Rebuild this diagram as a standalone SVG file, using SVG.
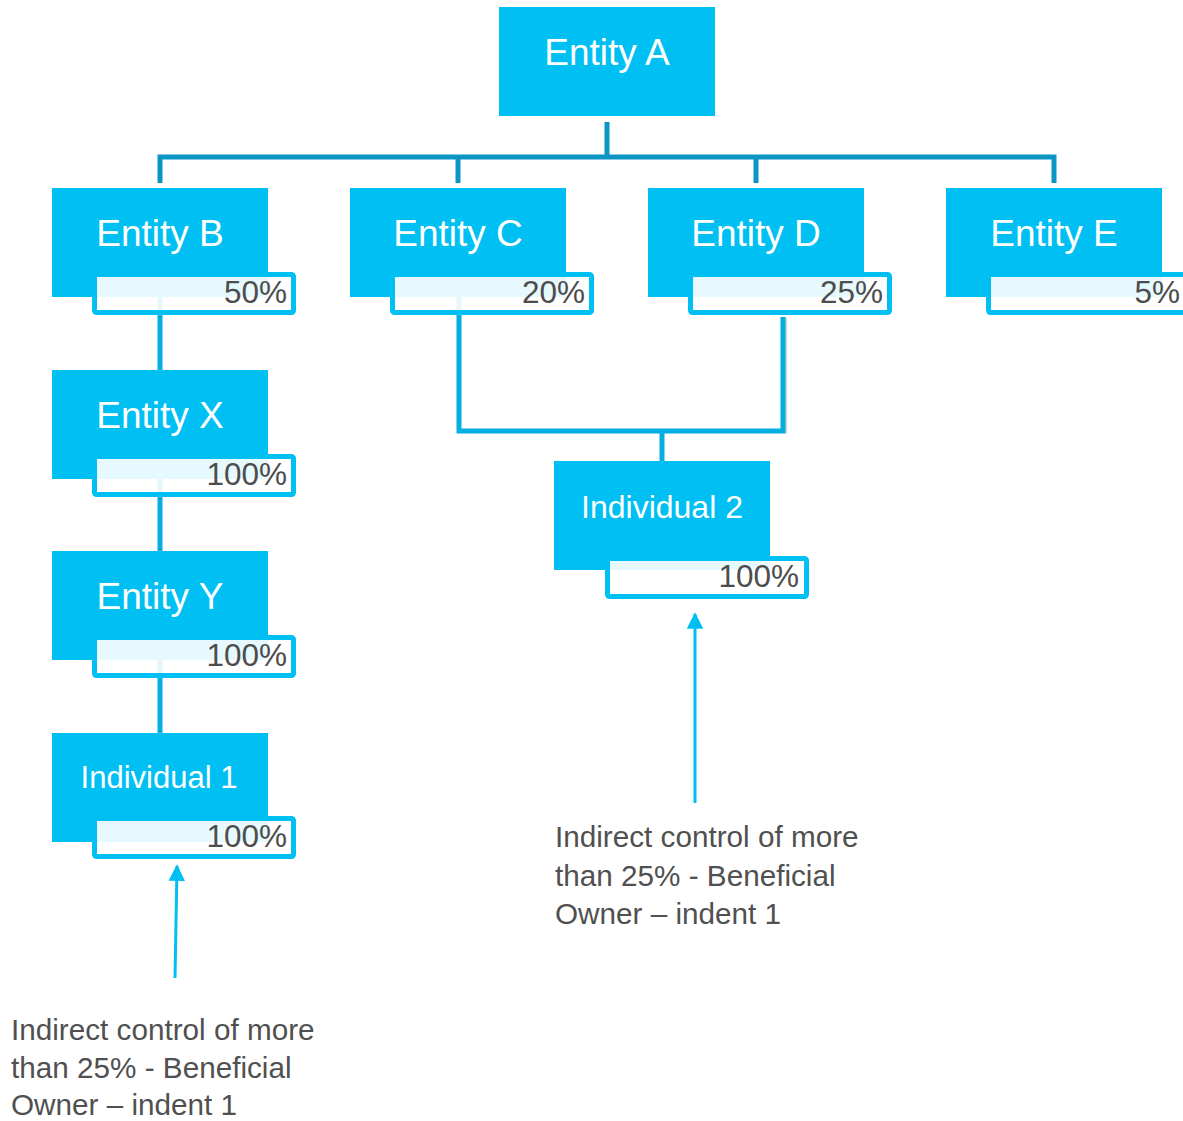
<svg xmlns="http://www.w3.org/2000/svg" width="1183" height="1121" viewBox="0 0 1183 1121">
<style>
.box{fill:#00BFF2}
.pct{fill:#ffffff;fill-opacity:0.9;stroke:#00BFF2;stroke-width:5}
.ent{font-family:"Liberation Sans",Arial,sans-serif;font-size:37px;fill:#ffffff;text-anchor:middle}
.ind{font-family:"Liberation Sans",Arial,sans-serif;font-size:31px;fill:#ffffff;text-anchor:middle}
.pt{font-family:"Liberation Sans",Arial,sans-serif;font-size:31.5px;fill:#4D4D4D;text-anchor:end}
.lbl{font-family:"Liberation Sans",Arial,sans-serif;font-size:29.7px;fill:#505050}
.tree{fill:none;stroke:#0C96C4;stroke-width:5}
.cn{fill:none;stroke:#03AEE0;stroke-width:5}
.arr{fill:none;stroke:#00BFF2;stroke-width:3}
</style>
<defs>
<marker id="ah" viewBox="0 0 10 10" refX="9" refY="5" markerWidth="5.5" markerHeight="5.5" orient="auto" markerUnits="strokeWidth">
<path d="M0,0 L10,5 L0,10 Z" fill="#00BFF2"/>
</marker>
</defs>
<g id="connectors">
<path class="tree" d="M607,122 V157 M160,183 V157 H1054 V183 M458,157 V183 M756,157 V183"/>
<path class="cn" d="M160,297 V370 M160,479 V551 M160,660 V733"/>
<path d="M786,318 V433" fill="none" stroke="#D0D0D0" stroke-width="2"/>
<path class="cn" d="M459,297 V431 H783 V317 M662,431 V461"/>
<path class="arr" d="M175,978 L177,866" marker-end="url(#ah)"/>
<path class="arr" d="M695,803 L695,614" marker-end="url(#ah)"/>
</g>
<g id="entityA">
<rect class="box" x="499" y="7" width="216" height="109"/>
<text class="ent" x="607" y="65">Entity A</text>
</g>
<g id="entityB">
<rect class="box" x="52" y="188" width="216" height="109"/>
<text class="ent" x="160" y="246">Entity B</text>
<rect class="pct" x="94.5" y="274.5" width="199" height="38" rx="2"/>
<text class="pt" x="287" y="303">50%</text>
</g>
<g id="entityC">
<rect class="box" x="350" y="188" width="216" height="109"/>
<text class="ent" x="458" y="246">Entity C</text>
<rect class="pct" x="392.5" y="274.5" width="199" height="38" rx="2"/>
<text class="pt" x="585" y="303">20%</text>
</g>
<g id="entityD">
<rect class="box" x="648" y="188" width="216" height="109"/>
<text class="ent" x="756" y="246">Entity D</text>
<rect class="pct" x="690.5" y="274.5" width="199" height="38" rx="2"/>
<text class="pt" x="883" y="303">25%</text>
</g>
<g id="entityE">
<rect class="box" x="946" y="188" width="216" height="109"/>
<text class="ent" x="1054" y="246">Entity E</text>
<rect class="pct" x="988.5" y="274.5" width="199" height="38" rx="2"/>
<text class="pt" x="1180" y="303">5%</text>
</g>
<g id="entityX">
<rect class="box" x="52" y="370" width="216" height="109"/>
<text class="ent" x="160" y="428">Entity X</text>
<rect class="pct" x="94.5" y="456.5" width="199" height="38" rx="2"/>
<text class="pt" x="287" y="485">100%</text>
</g>
<g id="entityY">
<rect class="box" x="52" y="551" width="216" height="109"/>
<text class="ent" x="160" y="609">Entity Y</text>
<rect class="pct" x="94.5" y="637.5" width="199" height="38" rx="2"/>
<text class="pt" x="287" y="666">100%</text>
</g>
<g id="individual1">
<rect class="box" x="52" y="733" width="216" height="109"/>
<text class="ind" x="159" y="788">Individual 1</text>
<rect class="pct" x="94.5" y="818.5" width="199" height="38" rx="2"/>
<text class="pt" x="287" y="847">100%</text>
</g>
<g id="individual2">
<rect class="box" x="554" y="461" width="216" height="109"/>
<text class="ind" x="662" y="518" style="font-size:32px">Individual 2</text>
<rect class="pct" x="607.5" y="558.5" width="199" height="38" rx="2"/>
<text class="pt" x="799" y="587">100%</text>
</g>
<g id="label1">
<text class="lbl" x="11" y="1040">Indirect control of more</text>
<text class="lbl" x="11" y="1078">than 25% - Beneficial</text>
<text class="lbl" x="11" y="1115">Owner – indent 1</text>
</g>
<g id="label2">
<text class="lbl" x="555" y="847">Indirect control of more</text>
<text class="lbl" x="555" y="886">than 25% - Beneficial</text>
<text class="lbl" x="555" y="924">Owner – indent 1</text>
</g>
</svg>
